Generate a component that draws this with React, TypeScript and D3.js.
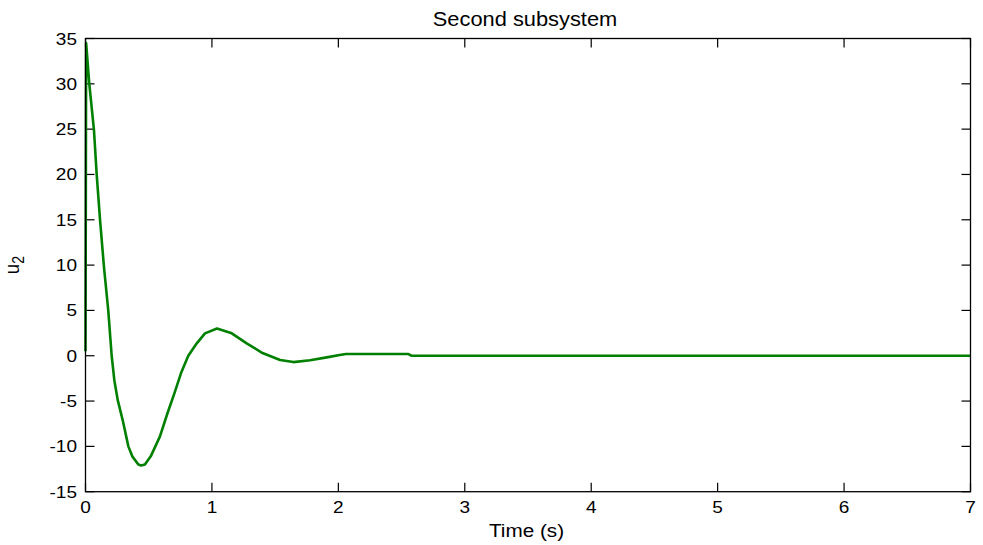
import React from "react";
import * as d3 from "d3";

const timeS: number[] = [0, 0.005, 0.03, 0.067, 0.088, 0.115, 0.146, 0.18, 0.207, 0.228, 0.255, 0.294, 0.339, 0.37, 0.418, 0.44, 0.47, 0.516, 0.589, 0.647, 0.703, 0.755, 0.813, 0.88, 0.945, 1.04, 1.157, 1.275, 1.4, 1.539, 1.644, 1.776, 1.908, 2.01, 2.06, 2.55, 2.58, 7];
const u2: number[] = [0.5, 34.5, 30.0, 24.9, 20.1, 15.0, 9.8, 5.0, 0, -2.7, -4.9, -7.1, -10.0, -11.1, -12.0, -12.1, -12.0, -11.1, -8.9, -6.4, -4.15, -1.94, 0, 1.37, 2.47, 3.0, 2.47, 1.37, 0.3, -0.47, -0.7, -0.5, -0.18, 0.08, 0.2, 0.2, 0.0, 0.0];
const xTicks: number[] = [0, 1, 2, 3, 4, 5, 6, 7];
const yTicks: number[] = [-15, -10, -5, 0, 5, 10, 15, 20, 25, 30, 35];
const titleText = "Second subsystem";
const xLabelText = "Time (s)";

const W = 983;
const H = 545;
const L = 85.5, R = 970.5, T = 38.5, B = 491.7;
const TICK = 9;
const SX = 1.12;
const FONT = "'Liberation Sans', Arial, Helvetica, sans-serif";

export default function App() {
  const x = d3.scaleLinear().domain([0, 7]).range([L, R]);
  const y = d3.scaleLinear().domain([-15, 35]).range([B, T]);
  const line = d3
    .line<number>()
    .x((_, i) => x(timeS[i]))
    .y((d) => y(d));
  const path = line(u2) || "";

  return (
    <svg
      width={W}
      height={H}
      style={{ position: "absolute", left: 0, top: 0, background: "#fff" }}
    >
      <rect x={0} y={0} width={W} height={H} fill="#fff" />
      <defs>
        <clipPath id="plotclip">
          <rect x={L - 2} y={T - 2} width={R - L + 4} height={B - T + 4} />
        </clipPath>
      </defs>
      {/* ticks */}
      {xTicks.map((t) => (
        <g key={"xt" + t}>
          <line x1={x(t)} x2={x(t)} y1={B} y2={B - TICK} stroke="#000" strokeWidth={1.2} />
          <line x1={x(t)} x2={x(t)} y1={T} y2={T + TICK} stroke="#000" strokeWidth={1.2} />
          <text
            transform={`translate(${x(t)},${513}) scale(${SX},1)`}
            textAnchor="middle"
            fontFamily={FONT}
            fontSize={17}
            fill="#000"
          >
            {t}
          </text>
        </g>
      ))}
      {yTicks.map((t) => (
        <g key={"yt" + t}>
          <line x1={L} x2={L + TICK} y1={y(t)} y2={y(t)} stroke="#000" strokeWidth={1.2} />
          <line x1={R} x2={R - TICK} y1={y(t)} y2={y(t)} stroke="#000" strokeWidth={1.2} />
          <text
            transform={`translate(${L - 8.5},${y(t) + 6}) scale(${SX},1)`}
            textAnchor="end"
            fontFamily={FONT}
            fontSize={17}
            fill="#000"
          >
            {t}
          </text>
        </g>
      ))}
      {/* curve */}
      <path
        d={path}
        fill="none"
        stroke="#008000"
        strokeWidth={2.6}
        strokeLinejoin="round"
        clipPath="url(#plotclip)"
      />
      {/* box */}
      <rect x={L} y={T} width={R - L} height={B - T} fill="none" stroke="#000" strokeWidth={1.3} />
      {/* title */}
      <text
        transform={`translate(${(L + R) / 2 - 3},${26}) scale(${SX},1)`}
        textAnchor="middle"
        fontFamily={FONT}
        fontSize={19.5}
        fill="#000"
      >
        {titleText}
      </text>
      {/* x label */}
      <text
        transform={`translate(${(L + R) / 2 - 1.5},${537}) scale(${SX},1)`}
        textAnchor="middle"
        fontFamily={FONT}
        fontSize={18.5}
        fill="#000"
      >
        {xLabelText}
      </text>
      {/* y label */}
      <text
        transform={`translate(${18.5},${(T + B) / 2}) rotate(-90) scale(1,${SX})`}
        textAnchor="middle"
        fontFamily={FONT}
        fontSize={18.5}
        fill="#000"
      >
        u
        <tspan fontSize={14} dy={5}>
          2
        </tspan>
      </text>
    </svg>
  );
}
